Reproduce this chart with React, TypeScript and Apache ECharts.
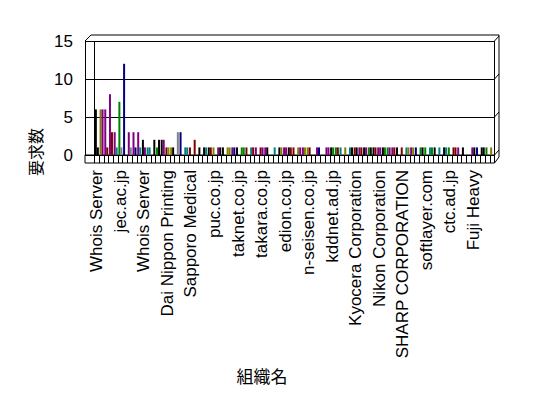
import React, { useEffect, useRef } from "react";
import * as echarts from "echarts";

// 85 organisations; only every fifth name is printed on the axis
const labelledNames: Record<number, string> = {
  0: "Whois Server",
  5: "jec.ac.jp",
  10: "Whois Server",
  15: "Dai Nippon Printing",
  20: "Sapporo Medical",
  25: "puc.co.jp",
  30: "taknet.co.jp",
  35: "takara.co.jp",
  40: "edion.co.jp",
  45: "n-seisen.co.jp",
  50: "kddnet.ad.jp",
  55: "Kyocera Corporation",
  60: "Nikon Corporation",
  65: "SHARP CORPORATION",
  70: "softlayer.com",
  75: "ctc.ad.jp",
  80: "Fuji Heavy",
};
const CATEGORY_COUNT = 85;
const categories: string[] = Array.from({ length: CATEGORY_COUNT }, (_, i) => labelledNames[i] ?? "");

const valuesA = [
  6, 6, 6, 8, 3, 7, 12, 3, 3, 3, 2, 1, 0, 1, 2, 1, 1, 0, 3, 1, 1, 2, 1, 1, 1, 1,
  1, 1, 1, 1, 1, 1, 1, 1, 1, 1, 1, 0, 1, 1, 1, 1, 1, 1, 1, 1, 0, 1, 0, 1, 1, 1,
  1, 1, 1, 1, 1, 1, 1, 1, 1, 1, 1, 1, 1, 1, 1, 1, 1, 1, 1, 1, 1, 1, 1, 1, 1, 1,
  1, 0, 1, 1, 1, 1, 1,
];
const valuesB = [
  1, 6, 1, 3, 1, 1, 0, 1, 1, 1, 1, 1, 2, 2, 2, 1, 1, 3, 0, 1, 0, 0, 0, 1, 1, 0,
  1, 0, 1, 1, 0, 1, 0, 1, 0, 1, 1, 0, 0, 1, 1, 1, 0, 1, 1, 1, 0, 1, 0, 1, 1, 1,
  0, 0, 1, 1, 1, 1, 1, 1, 1, 1, 1, 1, 0, 0, 1, 1, 0, 1, 0, 1, 0, 0, 1, 0, 1, 0,
  0, 0, 1, 0, 1, 0, 0,
];
const yTicks = [0, 5, 10, 15];

// style: colour code per bar
const colorCodesA =
  "KOPPPENPPPKT-EKRO-NTRRKKKO" +
  "PKOPKERTPRP-TKPKROPO-P-PKETOTRPKEKPKEPKRTPNEETKTKERPK-PNKEO";
const colorCodesB =
  "KPRRTG-GNTPTKKPOKG-T---TR-" +
  "K-ON-E-R-PK--OPR-POR-N-PER--KKRPKRPEPR--OO-K-E--T-R---K-K--";
const palette: Record<string, string> = {
  K: "#000000",
  O: "#808000",
  P: "#800080",
  R: "#800000",
  T: "#008080",
  N: "#000080",
  G: "#808080",
  E: "#008000",
  "-": "#000000",
};

export default function App() {
  const ref = useRef<HTMLDivElement>(null);
  useEffect(() => {
    const chart = echarts.init(ref.current!, null, { renderer: "svg" });
    const font = "'Liberation Sans', Arial, sans-serif";
    const cjk = "'Noto Sans CJK JP', sans-serif";
    const GL = 94.5, GR = 494.5, GT = 41, GB = 155;
    const line = (x1: number, y1: number, x2: number, y2: number) => ({
      type: "line",
      shape: { x1, y1, x2, y2 },
      style: { stroke: "#000", lineWidth: 1 },
      silent: true,
    });
    const stepY = (GB - GT) / 3;
    const frame: any[] = [
      line(85, GB, GR, GB),
      line(85, GB, 85, 163),
      line(85, 163, GR, 163),
      line(85, GT, 91, 35),
      line(91, 35, 499, 35),
      line(GR, GT, GR, 163),
      line(499, 35, 499, 157),
      line(GR, 163, 499, 157),
      line(GL, GT, GL, GB),
    ];
    for (let k = 0; k < 4; k++) {
      const y = GT + k * stepY;
      frame.push(line(GR, y, 499, y - 5));
    }
    const mk = (vals: number[], codes: string) =>
      vals.map((v, i) => ({ value: v, itemStyle: { color: palette[codes[i]] ?? "#000" } }));

    chart.setOption({
      animation: false,
      backgroundColor: "#fff",
      grid: { left: GL, right: 548 - GR, top: GT, bottom: 398 - GB, containLabel: false },
      xAxis: {
        type: "category",
        data: categories,
        axisLine: { show: true, lineStyle: { color: "#000", width: 1 } },
        axisTick: { show: true, interval: 0, length: 8, lineStyle: { color: "#000" } },
        axisLabel: {
          interval: 4,
          rotate: 90,
          margin: 15,
          fontSize: 17,
          color: "#000",
          fontFamily: font,
        },
        name: "組織名",
        nameLocation: "middle",
        nameGap: 212,
        nameTextStyle: { fontSize: 17, color: "#000", fontFamily: cjk, padding: [0, 65, 0, 0] },
      },
      yAxis: {
        type: "value",
        min: yTicks[0],
        max: yTicks[yTicks.length - 1],
        interval: 5,
        offset: 9.5,
        axisLine: { show: true, lineStyle: { color: "#000", width: 1 } },
        axisTick: { show: true, inside: true, length: 9.5, lineStyle: { color: "#000" } },
        splitLine: { show: true, lineStyle: { color: "#000", width: 1 } },
        axisLabel: { margin: 12, fontSize: 17, color: "#000", fontFamily: font },
        name: "要求数",
        nameLocation: "middle",
        nameGap: 42,
        nameRotate: 90,
        nameTextStyle: { fontSize: 16, color: "#000", fontFamily: cjk, padding: [0, 108, 0, 0] },
      },
      series: [
        { type: "bar", data: mk(valuesA, colorCodesA), barWidth: 2, barGap: "0%" },
        { type: "bar", data: mk(valuesB, colorCodesB), barWidth: 2, barGap: "0%" },
      ],
      graphic: frame,
    });
    return () => chart.dispose();
  }, []);
  return (
    <div
      ref={ref}
      style={{ position: "fixed", left: 0, top: 0, width: 548, height: 398, background: "#fff" }}
    />
  );
}
